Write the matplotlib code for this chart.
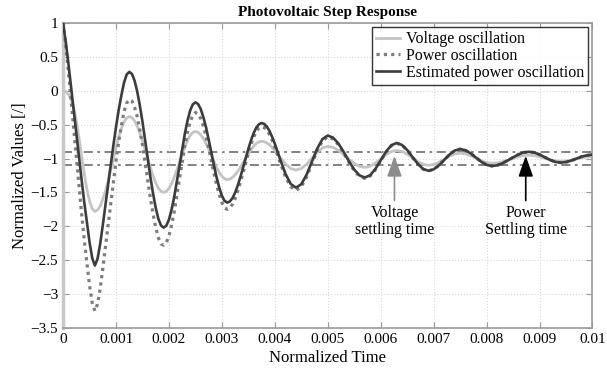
import matplotlib
matplotlib.use("Agg")
import matplotlib.pyplot as plt
import numpy as np

plt.rcParams['font.family'] = ['Liberation Serif', 'DejaVu Serif']

# sampling grid the curves were read at (fine before 0.004, coarse after)
t_fine = np.linspace(0, 0.004, 81)
t_coarse = np.linspace(0.0041, 0.01, 60)
time = np.concatenate([t_fine, t_coarse])

voltage = [
    0.00, -0.01, -0.05, -0.12, -0.25, -0.45, -0.70, -0.97, -1.23, -1.46, -1.63, -1.74, -1.78,
    -1.76, -1.70, -1.60, -1.48, -1.33, -1.16, -1.00, -0.83, -0.68, -0.56, -0.46, -0.40, -0.38,
    -0.396, -0.444, -0.521, -0.622, -0.742, -0.873, -1.007, -1.138, -1.258, -1.359, -1.436, -1.483, -1.50,
    -1.485, -1.44, -1.369, -1.275, -1.166, -1.05, -0.934, -0.825, -0.731, -0.66, -0.615, -0.60,
    -0.612, -0.648, -0.704, -0.778, -0.863, -0.955, -1.047, -1.133, -1.206, -1.262, -1.298, -1.31,
    -1.302, -1.278, -1.239, -1.188, -1.128, -1.061, -0.994, -0.928, -0.867, -0.816, -0.777, -0.754, -0.745,
    -0.751, -0.769, -0.799, -0.837, -0.882,
    -0.983, -1.078, -1.146, -1.17,
    -1.147, -1.083, -0.995, -0.908, -0.843, -0.82,
    -0.835, -0.878, -0.941, -1.009, -1.072, -1.115, -1.13,
    -1.113, -1.068, -1.005, -0.943, -0.897, -0.88,
    -0.895, -0.935, -0.99, -1.045, -1.085, -1.10,
    -1.088, -1.055, -1.01, -0.965, -0.932, -0.92,
    -0.93, -0.958, -0.995, -1.033, -1.06, -1.07,
    -1.064, -1.047, -1.023, -0.997, -0.973, -0.956, -0.95,
    -0.956, -0.973, -0.995, -1.018, -1.034, -1.04,
    -1.035, -1.023, -1.005, -0.988, -0.975, -0.97]

power = [
    1.00, 0.67, 0.28, -0.14, -0.56, -0.99, -1.41, -1.82, -2.21, -2.55, -2.88, -3.13, -3.25,
    -3.15, -2.92, -2.62, -2.30, -1.97, -1.65, -1.33, -1.03, -0.75, -0.52, -0.31, -0.18, -0.13,
    -0.15, -0.24, -0.38, -0.58, -0.81, -1.07, -1.33, -1.59, -1.82, -2.02, -2.17, -2.26, -2.28,
    -2.24, -2.14, -1.98, -1.78, -1.54, -1.30, -1.05, -0.81, -0.61, -0.455, -0.36, -0.32,
    -0.34, -0.41, -0.525, -0.67, -0.845, -1.03, -1.215, -1.39, -1.535, -1.65, -1.725, -1.75,
    -1.728, -1.673, -1.587, -1.476, -1.345, -1.203, -1.06, -0.92, -0.791, -0.683, -0.60, -0.549, -0.53,
    -0.543, -0.582, -0.647, -0.732, -0.833,
    -1.058, -1.269, -1.417, -1.47,
    -1.415, -1.272, -1.076, -0.881, -0.737, -0.68,
    -0.71, -0.795, -0.918, -1.055, -1.178, -1.263, -1.293,
    -1.258, -1.164, -1.035, -0.905, -0.81, -0.775,
    -0.802, -0.877, -0.978, -1.081, -1.156, -1.183,
    -1.16, -1.10, -1.02, -0.94, -0.881, -0.86,
    -0.877, -0.923, -0.985, -1.048, -1.093, -1.11,
    -1.10, -1.07, -1.028, -0.982, -0.94, -0.91, -0.90,
    -0.911, -0.94, -0.98, -1.02, -1.049, -1.06,
    -1.052, -1.03, -1.00, -0.97, -0.952, -0.94]

estimated = [
    1.00, 0.72, 0.40, 0.06, -0.28, -0.63, -0.98, -1.32, -1.65, -1.94, -2.24, -2.47, -2.58,
    -2.48, -2.26, -1.98, -1.68, -1.38, -1.09, -0.80, -0.53, -0.28, -0.07, 0.12, 0.24, 0.28,
    0.25, 0.15, -0.01, -0.22, -0.46, -0.73, -1.01, -1.28, -1.52, -1.73, -1.89, -1.99, -2.02,
    -1.99, -1.90, -1.75, -1.56, -1.33, -1.10, -0.86, -0.63, -0.44, -0.29, -0.20, -0.17,
    -0.195, -0.27, -0.39, -0.54, -0.72, -0.91, -1.10, -1.28, -1.43, -1.55, -1.625, -1.65,
    -1.633, -1.583, -1.502, -1.396, -1.27, -1.133, -0.992, -0.855, -0.729, -0.623, -0.542, -0.493, -0.475,
    -0.489, -0.529, -0.595, -0.681, -0.783,
    -1.01, -1.224, -1.375, -1.43,
    -1.378, -1.238, -1.045, -0.853, -0.712, -0.66,
    -0.691, -0.777, -0.901, -1.039, -1.163, -1.249, -1.28,
    -1.246, -1.153, -1.025, -0.898, -0.804, -0.77,
    -0.798, -0.873, -0.975, -1.078, -1.153, -1.18,
    -1.159, -1.10, -1.02, -0.94, -0.881, -0.86,
    -0.877, -0.923, -0.985, -1.048, -1.093, -1.11,
    -1.10, -1.07, -1.028, -0.982, -0.94, -0.91, -0.90,
    -0.911, -0.94, -0.98, -1.02, -1.049, -1.06,
    -1.052, -1.03, -1.00, -0.97, -0.952, -0.94]

band = [-0.9, -1.1]
x_ticks = [0, 0.001, 0.002, 0.003, 0.004, 0.005, 0.006, 0.007, 0.008, 0.009, 0.01]
x_labels = ['0', '0.001', '0.002', '0.003', '0.004', '0.005', '0.006', '0.007', '0.008', '0.009', '0.01']
y_ticks = [-3.5, -3, -2.5, -2, -1.5, -1, -0.5, 0, 0.5, 1]
y_labels = ['\u22123.5', '\u22123', '\u22122.5', '\u22122', '\u22121.5', '\u22121', '\u22120.5', '0', '0.5', '1']

v_settle = 0.00626
p_settle = 0.00874

fig = plt.figure(figsize=(6.07, 3.73), dpi=100)
ax = fig.add_axes([0.104, 0.121, 0.872, 0.817])

for b in band:
    ax.axhline(b, color='#777777', lw=1.3, ls=(0, (5, 2.5, 1.5, 2.5)), zorder=1)

ax.plot(time, voltage, color='#c4c4c4', lw=2.0, label='Voltage oscillation', zorder=2)
ax.plot(time, power, color='#7d7d7d', lw=2.3, ls=(0, (1, 1.3)), label='Power oscillation', zorder=3)
ax.plot(time, estimated, color='#3c3c3c', lw=1.9, label='Estimated power oscillation', zorder=4)

ax.annotate('', xy=(v_settle, -0.96), xytext=(v_settle, -1.62),
            arrowprops=dict(arrowstyle='-|>,head_length=0.9,head_width=0.32',
                            mutation_scale=14, color='#8c8c8c', lw=1.2, shrinkA=0, shrinkB=0))
ax.annotate('', xy=(p_settle, -0.96), xytext=(p_settle, -1.62),
            arrowprops=dict(arrowstyle='-|>,head_length=0.9,head_width=0.32',
                            mutation_scale=14, color='black', lw=1.2, shrinkA=0, shrinkB=0))
ax.text(v_settle, -1.68, 'Voltage\nsettling time', ha='center', va='top', fontsize=11.5, linespacing=1.15)
ax.text(p_settle, -1.68, 'Power\nSettling time', ha='center', va='top', fontsize=11.5, linespacing=1.15)

ax.set_xlim(0, 0.01)
ax.set_ylim(-3.5, 1)
ax.set_xticks(x_ticks, x_labels)
ax.set_yticks(y_ticks, y_labels)
ax.grid(True, color='#d8d8d8', ls=':', lw=0.8)
ax.tick_params(direction='in', top=True, right=True, color='#999999', length=4, labelsize=11)
for s in ax.spines.values():
    s.set_color('#9a9a9a')
    s.set_linewidth(1.2)
ax.spines['left'].set_color('#c8c8c8')
ax.spines['left'].set_linewidth(2.5)

ax.set_title('Photovoltaic Step Response', fontsize=11, fontweight='bold', pad=5)
ax.set_xlabel('Normalized Time', fontsize=12, labelpad=3)
ax.set_ylabel('Normalized Values [/]', fontsize=12, labelpad=2)

leg = ax.legend(loc='upper right', fontsize=11.5, frameon=True, fancybox=False,
                borderpad=0.25, labelspacing=0.05, handlelength=1.5, handletextpad=0.4,
                borderaxespad=0.25)
leg.get_frame().set_edgecolor('black')
leg.get_frame().set_linewidth(1.0)

fig.savefig('out.png', dpi=100)
